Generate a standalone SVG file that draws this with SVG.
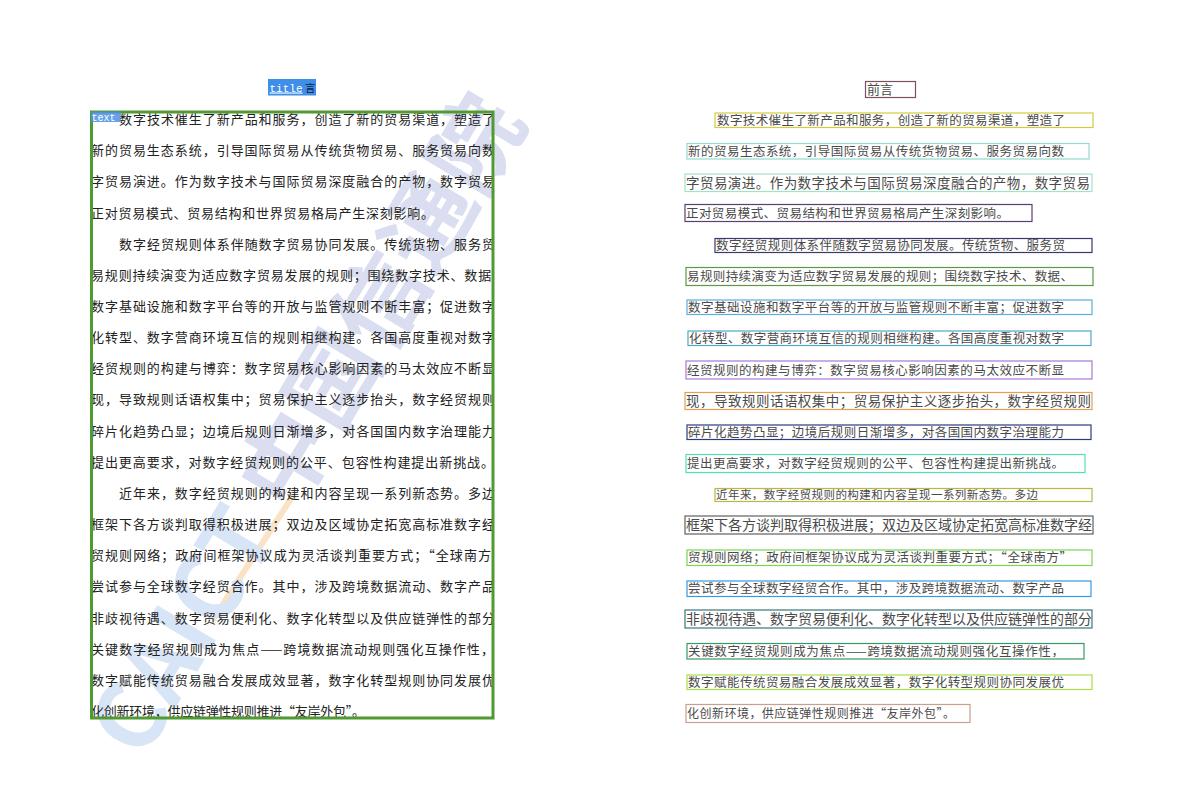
<svg xmlns="http://www.w3.org/2000/svg" width="1192" height="808" viewBox="0 0 1192 808">
<defs>
<style>
.lt{font-family:"Noto Sans CJK SC","Noto Sans CJK JP",sans-serif;font-size:13px;fill:#222222;}
.rt{font-family:"Noto Sans CJK SC","Noto Sans CJK JP",sans-serif;fill:#4a4a4a;}
.bx{fill:none;stroke-width:1.2;}
.lbl{font-family:"Liberation Mono","DejaVu Sans Mono",monospace;fill:#ffffff;}
.wm{font-family:"Noto Sans CJK SC","Liberation Sans",sans-serif;font-weight:bold;font-size:92px;}
</style>
<clipPath id="pageclip"><rect x="91" y="100" width="403" height="640"/></clipPath>
</defs>
<rect x="0" y="0" width="1192" height="808" fill="#ffffff"/>

<g id="watermark">
<line x1="292" y1="497" x2="214" y2="618" stroke="#fbe2c4" stroke-width="6" stroke-linecap="round"/>
<g transform="translate(308,425) rotate(-59)">
<text class="wm" x="0" y="32" text-anchor="middle"><tspan fill="#d8e5f7">CAICT</tspan><tspan fill="#dadef0"> 中国信通院</tspan></text>
</g>
</g>

<g id="left-page">
<g clip-path="url(#pageclip)">
<text class="lt" x="119" y="124" textLength="376" lengthAdjust="spacing">数字技术催生了新产品和服务，创造了新的贸易渠道，塑造了</text>
<text class="lt" x="91" y="155.2" textLength="404" lengthAdjust="spacing">新的贸易生态系统，引导国际贸易从传统货物贸易、服务贸易向数</text>
<text class="lt" x="91" y="186.3" textLength="404" lengthAdjust="spacing">字贸易演进。作为数字技术与国际贸易深度融合的产物，数字贸易</text>
<text class="lt" x="91" y="217.5" textLength="343" lengthAdjust="spacing">正对贸易模式、贸易结构和世界贸易格局产生深刻影响。</text>
<text class="lt" x="119" y="248.6" textLength="376" lengthAdjust="spacing">数字经贸规则体系伴随数字贸易协同发展。传统货物、服务贸</text>
<text class="lt" x="91" y="279.8" textLength="414" lengthAdjust="spacing">易规则持续演变为适应数字贸易发展的规则；围绕数字技术、数据、</text>
<text class="lt" x="91" y="311" textLength="404" lengthAdjust="spacing">数字基础设施和数字平台等的开放与监管规则不断丰富；促进数字</text>
<text class="lt" x="91" y="342.1" textLength="404" lengthAdjust="spacing">化转型、数字营商环境互信的规则相继构建。各国高度重视对数字</text>
<text class="lt" x="91" y="373.3" textLength="404" lengthAdjust="spacing">经贸规则的构建与博弈：数字贸易核心影响因素的马太效应不断显</text>
<text class="lt" x="91" y="404.4" textLength="404" lengthAdjust="spacing">现，导致规则话语权集中；贸易保护主义逐步抬头，数字经贸规则</text>
<text class="lt" x="91" y="435.6" textLength="404" lengthAdjust="spacing">碎片化趋势凸显；边境后规则日渐增多，对各国国内数字治理能力</text>
<text class="lt" x="91" y="466.8" textLength="403" lengthAdjust="spacing">提出更高要求，对数字经贸规则的公平、包容性构建提出新挑战。</text>
<text class="lt" x="119" y="497.9" textLength="376" lengthAdjust="spacing">近年来，数字经贸规则的构建和内容呈现一系列新态势。多边</text>
<text class="lt" x="91" y="529.1" textLength="404" lengthAdjust="spacing">框架下各方谈判取得积极进展；双边及区域协定拓宽高标准数字经</text>
<text class="lt" x="91" y="560.2" textLength="414" lengthAdjust="spacing">贸规则网络；政府间框架协议成为灵活谈判重要方式；“全球南方”</text>
<text class="lt" x="91" y="591.4" textLength="404" lengthAdjust="spacing">尝试参与全球数字经贸合作。其中，涉及跨境数据流动、数字产品</text>
<text class="lt" x="91" y="622.6" textLength="404" lengthAdjust="spacing">非歧视待遇、数字贸易便利化、数字化转型以及供应链弹性的部分</text>
<text class="lt" x="91" y="653.7" textLength="403" lengthAdjust="spacing">关键数字经贸规则成为焦点——跨境数据流动规则强化互操作性，</text>
<text class="lt" x="91" y="684.9" textLength="404" lengthAdjust="spacing">数字赋能传统贸易融合发展成效显著，数字化转型规则协同发展优</text>
<text class="lt" x="91" y="716" textLength="274" lengthAdjust="spacing">化创新环境，供应链弹性规则推进“友岸外包”。</text>
</g>
</g>

<g id="text-region">
<rect x="91.5" y="112" width="401.5" height="606" fill="none" stroke="#4f9b32" stroke-width="3"/>
<rect x="91" y="111.5" width="29.5" height="10.5" fill="#4f92e4" fill-opacity="0.85"/>
<text class="lbl" x="91.5" y="120.5" font-size="10">text</text>
</g>

<g id="title-region">
<rect x="268" y="79" width="48" height="16.5" fill="#3f8ee8"/>
<text class="lbl" x="269.5" y="91.5" font-size="11" text-decoration="underline">title</text>
<text x="305" y="91.5" font-family="Noto Sans CJK SC,sans-serif" font-size="10.5" fill="#10203a">言</text>
</g>

<g id="right-page">
<g id="r-title">
<rect class="bx" x="865.5" y="81.5" width="50" height="16" stroke="#7b5060"/>
<text class="rt" x="867" y="93.6" font-size="13" textLength="26">前言</text>
</g>
<g id="r-l1"><rect class="bx" x="715" y="113" width="378" height="14.5" stroke="#d4cc3c"/><text class="rt" x="717" y="124.6" font-size="12.5" textLength="348" lengthAdjust="spacing">数字技术催生了新产品和服务，创造了新的贸易渠道，塑造了</text></g>
<g id="r-l2"><rect class="bx" x="687" y="143.5" width="402" height="15.5" stroke="#8fdcd0"/><text class="rt" x="688" y="155.8" font-size="12.5" textLength="376" lengthAdjust="spacing">新的贸易生态系统，引导国际贸易从传统货物贸易、服务贸易向数</text></g>
<g id="r-l3"><rect class="bx" x="685" y="174" width="407" height="17.5" stroke="#a4e2c6"/><text class="rt" x="686" y="187.8" font-size="13.5" textLength="404" lengthAdjust="spacing">字贸易演进。作为数字技术与国际贸易深度融合的产物，数字贸易</text></g>
<g id="r-l4"><rect class="bx" x="685" y="204.5" width="347" height="17" stroke="#5a4070"/><text class="rt" x="686" y="217.6" font-size="12.5" textLength="323" lengthAdjust="spacing">正对贸易模式、贸易结构和世界贸易格局产生深刻影响。</text></g>
<g id="r-l5"><rect class="bx" x="715" y="238.5" width="377" height="14" stroke="#3a3a6a"/><text class="rt" x="716" y="250.1" font-size="12.5" textLength="349" lengthAdjust="spacing">数字经贸规则体系伴随数字贸易协同发展。传统货物、服务贸</text></g>
<g id="r-l6"><rect class="bx" x="686" y="267.5" width="407" height="18" stroke="#5c9a40"/><text class="rt" x="687" y="281.1" font-size="12.5" textLength="386" lengthAdjust="spacing">易规则持续演变为适应数字贸易发展的规则；围绕数字技术、数据、</text></g>
<g id="r-l7"><rect class="bx" x="687" y="300" width="405" height="14.5" stroke="#5aaee0"/><text class="rt" x="688" y="311.8" font-size="12.5" textLength="376" lengthAdjust="spacing">数字基础设施和数字平台等的开放与监管规则不断丰富；促进数字</text></g>
<g id="r-l8"><rect class="bx" x="688" y="331" width="403" height="14.5" stroke="#50a8c8"/><text class="rt" x="689" y="342.9" font-size="12.5" textLength="375" lengthAdjust="spacing">化转型、数字营商环境互信的规则相继构建。各国高度重视对数字</text></g>
<g id="r-l9"><rect class="bx" x="686" y="361" width="406" height="18" stroke="#a878d8"/><text class="rt" x="687" y="374.6" font-size="12.5" textLength="377" lengthAdjust="spacing">经贸规则的构建与博弈：数字贸易核心影响因素的马太效应不断显</text></g>
<g id="r-l10"><rect class="bx" x="685" y="392.5" width="407" height="17" stroke="#e0a050"/><text class="rt" x="686" y="406" font-size="13.5" textLength="405" lengthAdjust="spacing">现，导致规则话语权集中；贸易保护主义逐步抬头，数字经贸规则</text></g>
<g id="r-l11"><rect class="bx" x="687" y="425" width="404" height="14.5" stroke="#2a3c80"/><text class="rt" x="688" y="436.8" font-size="12.5" textLength="376" lengthAdjust="spacing">碎片化趋势凸显；边境后规则日渐增多，对各国国内数字治理能力</text></g>
<g id="r-l12"><rect class="bx" x="686" y="454.5" width="399" height="18" stroke="#50e0b8"/><text class="rt" x="687" y="468.1" font-size="12.5" textLength="377" lengthAdjust="spacing">提出更高要求，对数字经贸规则的公平、包容性构建提出新挑战。</text></g>
<g id="r-l13"><rect class="bx" x="715" y="488.5" width="377" height="13" stroke="#b8b848"/><text class="rt" x="716" y="499.3" font-size="11.5" textLength="322" lengthAdjust="spacing">近年来，数字经贸规则的构建和内容呈现一系列新态势。多边</text></g>
<g id="r-l14"><rect class="bx" x="685" y="516" width="408" height="18" stroke="#606060"/><text class="rt" x="686" y="530.2" font-size="14" textLength="406" lengthAdjust="spacing">框架下各方谈判取得积极进展；双边及区域协定拓宽高标准数字经</text></g>
<g id="r-l15"><rect class="bx" x="687" y="550" width="405" height="15.5" stroke="#78d850"/><text class="rt" x="688" y="562.4" font-size="12.5" textLength="384" lengthAdjust="spacing">贸规则网络；政府间框架协议成为灵活谈判重要方式；“全球南方”</text></g>
<g id="r-l16"><rect class="bx" x="687" y="581" width="404" height="15.5" stroke="#3898e0"/><text class="rt" x="688" y="593.4" font-size="12.5" textLength="376" lengthAdjust="spacing">尝试参与全球数字经贸合作。其中，涉及跨境数据流动、数字产品</text></g>
<g id="r-l17"><rect class="bx" x="685" y="610" width="407" height="18" stroke="#387878"/><text class="rt" x="686" y="624.2" font-size="14" textLength="406" lengthAdjust="spacing">非歧视待遇、数字贸易便利化、数字化转型以及供应链弹性的部分</text></g>
<g id="r-l18"><rect class="bx" x="687" y="643.5" width="397" height="15.5" stroke="#389868"/><text class="rt" x="688" y="655.8" font-size="12.5" textLength="376" lengthAdjust="spacing">关键数字经贸规则成为焦点——跨境数据流动规则强化互操作性，</text></g>
<g id="r-l19"><rect class="bx" x="687" y="675" width="405" height="14.5" stroke="#a8e048"/><text class="rt" x="688" y="686.8" font-size="12.5" textLength="376" lengthAdjust="spacing">数字赋能传统贸易融合发展成效显著，数字化转型规则协同发展优</text></g>
<g id="r-l20"><rect class="bx" x="686" y="704.5" width="284" height="18" stroke="#c8a090"/><text class="rt" x="687" y="718" font-size="12" textLength="268" lengthAdjust="spacing">化创新环境，供应链弹性规则推进“友岸外包”。</text></g>
</g>
</svg>
